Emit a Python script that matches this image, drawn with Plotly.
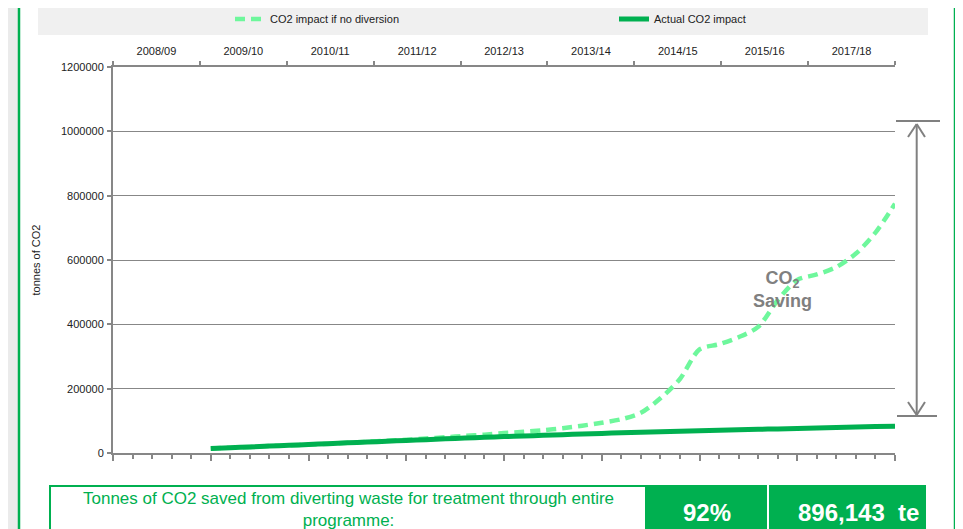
import plotly.graph_objects as go

# ---------------- data ----------------
quarters = list(range(5, 41))  # bottom-axis period index (40 periods in all)
no_diversion = [14000, 16500, 19000, 21500, 24000, 26500, 29000, 31500, 35000, 38000,
                41000, 45000, 49000, 53000, 57000, 62000, 66000, 71000, 77000, 85000,
                94000, 105000, 125000, 170000, 230000, 322000, 338000, 360000, 392000, 475000,
                538000, 555000, 578000, 620000, 685000, 775000]
actual = [14000, 16500, 19000, 21500, 24000, 26500, 29000, 31500, 34000, 36500,
          39000, 41500, 44000, 46500, 49000, 51000, 53000, 55000, 57000, 59000,
          61000, 63000, 64500, 66000, 67500, 69000, 70500, 72000, 73500, 75000,
          76500, 78000, 79500, 81000, 82000, 83000]
fiscal_years = ["2008/09", "2009/10", "2010/11", "2011/12", "2012/13",
                "2013/14", "2014/15", "2015/16", "2017/18"]
series_names = ["CO2 impact if no diversion", "Actual CO2 impact"]
summary_label = "Tonnes of CO2 saved from diverting waste for treatment through entire<br>programme:"
summary_pct = "92%"
summary_tonnes = "896,143\u00a0 te"

# ---------------- geometry helpers (page pixels -> paper) ----------------
OFF = 8                      # default page body margin
W_FIG, H_FIG = 963 - OFF, 529 - OFF
L, T, PW, PH = 105, 59, 782, 386
R = W_FIG - L - PW
B = H_FIG - T - PH


def fx(px):
    return (px - OFF - L) / PW


def fy(py):
    return (T + PH - (py - OFF)) / PH


GREEN = "#00b050"
LIGHT = "#6ef79c"
GREY = "#878787"
FONT = "Arial, Liberation Sans, sans-serif"

fig = go.Figure()
fig.add_trace(go.Scatter(
    x=quarters, y=no_diversion, name=series_names[0], mode="lines",
    line=dict(color=LIGHT, width=4.5, dash="10px,6px", shape="spline", smoothing=0.8),
    hoverinfo="skip"))
fig.add_trace(go.Scatter(
    x=quarters, y=actual, name=series_names[1], mode="lines",
    line=dict(color=GREEN, width=5, shape="spline", smoothing=0.8),
    hoverinfo="skip"))
# anchor trace for the top (fiscal-year) axis
fig.add_trace(go.Scatter(x=[0.5], y=[None], xaxis="x2", showlegend=False,
                         mode="markers", hoverinfo="skip"))

shapes = []
# white page panel with green side rules
shapes.append(dict(type="rect", xref="paper", yref="paper", x0=fx(19), x1=fx(955),
                   y0=fy(540), y1=fy(-10), fillcolor="white", line_width=0, layer="below"))
for xx in (19, 955):
    shapes.append(dict(type="line", xref="paper", yref="paper", x0=fx(xx), x1=fx(xx),
                       y0=fy(540), y1=fy(-10), line=dict(color=GREEN, width=2.5), layer="below"))
# legend band
shapes.append(dict(type="rect", xref="paper", yref="paper", x0=fx(38), x1=fx(928),
                   y0=fy(35), y1=fy(3), fillcolor="#f0f0f0", line_width=0, layer="below"))
# saving arrow
AX = 916.7
ARC = "#808080"
shapes += [
    dict(type="line", xref="paper", yref="paper", x0=fx(896), x1=fx(940), y0=fy(121), y1=fy(121),
         line=dict(color=ARC, width=2)),
    dict(type="line", xref="paper", yref="paper", x0=fx(897), x1=fx(937), y0=fy(416), y1=fy(416),
         line=dict(color=ARC, width=2)),
    dict(type="line", xref="paper", yref="paper", x0=fx(AX), x1=fx(AX), y0=fy(124), y1=fy(415),
         line=dict(color=ARC, width=2)),
    dict(type="line", xref="paper", yref="paper", x0=fx(908), x1=fx(AX), y0=fy(137), y1=fy(124),
         line=dict(color=ARC, width=2)),
    dict(type="line", xref="paper", yref="paper", x0=fx(925), x1=fx(AX), y0=fy(137), y1=fy(124),
         line=dict(color=ARC, width=2)),
    dict(type="line", xref="paper", yref="paper", x0=fx(908), x1=fx(AX), y0=fy(402), y1=fy(415),
         line=dict(color=ARC, width=2)),
    dict(type="line", xref="paper", yref="paper", x0=fx(925), x1=fx(AX), y0=fy(402), y1=fy(415),
         line=dict(color=ARC, width=2)),
]
# summary table
shapes += [
    dict(type="rect", xref="paper", yref="paper", x0=fx(50), x1=fx(646), y0=fy(545), y1=fy(486),
         fillcolor="white", line=dict(color=GREEN, width=2)),
    dict(type="rect", xref="paper", yref="paper", x0=fx(646), x1=fx(767), y0=fy(545), y1=fy(485),
         fillcolor=GREEN, line_width=0),
    dict(type="rect", xref="paper", yref="paper", x0=fx(769), x1=fx(926), y0=fy(545), y1=fy(485),
         fillcolor=GREEN, line_width=0),
]

annotations = [
    dict(xref="paper", yref="paper", x=fx(348), y=fy(509), text=summary_label, showarrow=False,
         xanchor="center", yanchor="middle", font=dict(family=FONT, size=17, color=GREEN)),
    dict(xref="paper", yref="paper", x=fx(707), y=fy(512), text=summary_pct, showarrow=False,
         xanchor="center", yanchor="middle", font=dict(family=FONT, size=24, color="white", weight="bold")),
    dict(xref="paper", yref="paper", x=fx(858), y=fy(512), text=summary_tonnes, showarrow=False,
         xanchor="center", yanchor="middle", font=dict(family=FONT, size=24, color="white", weight="bold")),
    dict(xref="paper", yref="paper", x=fx(782), y=fy(289), text="CO<sub>2</sub><br>Saving", showarrow=False,
         xanchor="center", yanchor="middle", font=dict(family=FONT, size=18, color="#808080", weight="bold")),
]

fig.update_layout(
    width=W_FIG, height=H_FIG,
    margin=dict(l=L, r=R, t=T, b=B, autoexpand=False),
    paper_bgcolor="#ebebeb", plot_bgcolor="rgba(0,0,0,0)",
    font=dict(family=FONT, size=11, color="#222222"),
    showlegend=True,
    legend=dict(orientation="h", x=fx(230), y=fy(19), xanchor="left", yanchor="middle",
                bgcolor="rgba(0,0,0,0)", font=dict(size=11, color="#222222"),
                entrywidth=339, entrywidthmode="pixels", tracegroupgap=0),
    xaxis=dict(range=[0, 40], showgrid=False, zeroline=False, showline=True,
               linecolor=GREY, linewidth=2, showticklabels=False,
               tickmode="linear", tick0=0, dtick=5, ticks="outside", ticklen=6,
               tickcolor=GREY, tickwidth=1.5,
               minor=dict(dtick=1, tick0=0, ticks="outside", ticklen=4, tickcolor=GREY, tickwidth=1.5)),
    xaxis2=dict(range=[0, 9], overlaying="x", side="top", anchor="y", showgrid=False,
                zeroline=False, showline=True, linecolor=GREY, linewidth=2,
                tickmode="array", tickvals=[i + 0.5 for i in range(len(fiscal_years))],
                ticktext=fiscal_years, ticks="", ticklabelstandoff=6,
                tickfont=dict(size=11, color="#222222"),
                minor=dict(tickmode="array", tickvals=list(range(len(fiscal_years) + 1)),
                           ticks="outside", ticklen=4, tickcolor=GREY, tickwidth=1.5)),
    yaxis=dict(range=[0, 1200000], tickmode="linear", tick0=0, dtick=200000,
               tickformat="d", showgrid=True, gridcolor=GREY, gridwidth=1.3,
               zeroline=False, showline=True, linecolor=GREY, linewidth=2,
               ticks="outside", ticklen=4, tickcolor=GREY, tickwidth=1.5,
               ticklabelstandoff=1,
               tickfont=dict(size=11, color="#222222"),
               title=dict(text="tonnes of CO2", font=dict(size=11, color="#222222"), standoff=18)),
    shapes=shapes,
    annotations=annotations,
)

fig.write_html("out.html")
